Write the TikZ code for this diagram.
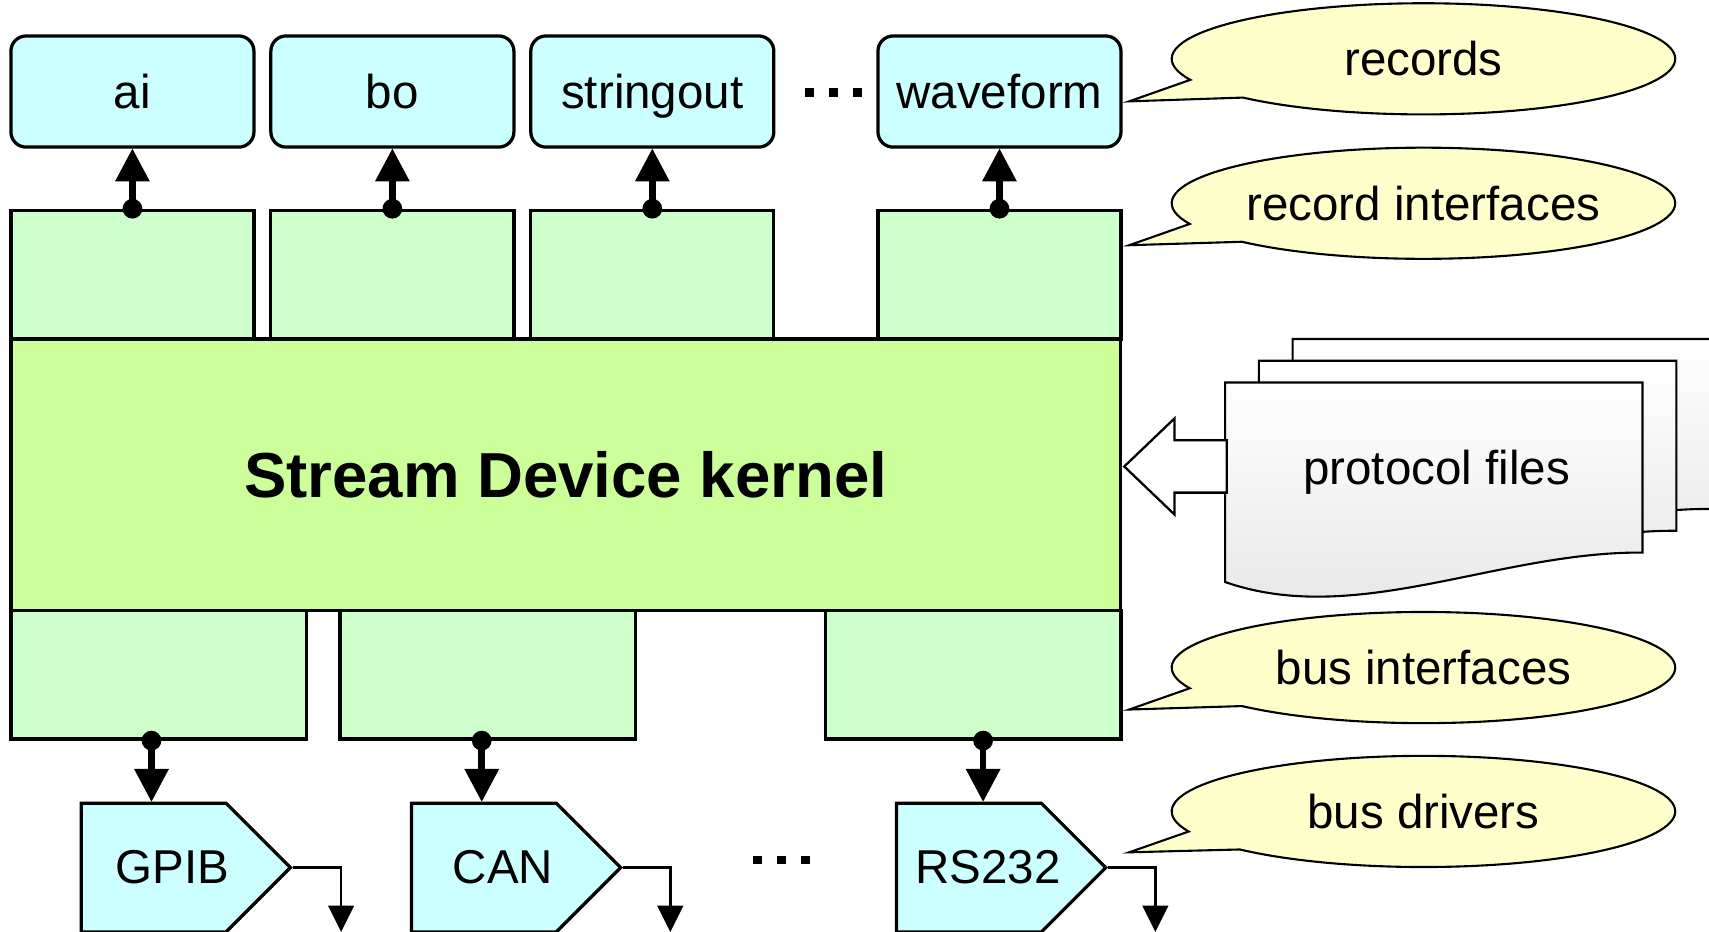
\documentclass[tikz,border=0pt]{standalone}
\usepackage{fontspec}
\setmainfont{Liberation Sans}
\usetikzlibrary{positioning,arrows.meta,shapes.symbols,shapes.callouts}

\definecolor{reccol}{HTML}{CCFFFF}
\definecolor{ifcol}{HTML}{CCFFCC}
\definecolor{kerncol}{HTML}{CCFF99}
\definecolor{notecol}{HTML}{FFFFCC}

\begin{document}
\begin{tikzpicture}[node distance = 1.68cm and 2.385cm, on grid,
font=\fontsize{12.4}{15}\selectfont,
rec/.style ={rectangle, rounded corners=0.14cm, draw, line width=0.85pt,
  fill=reccol, minimum width=2.23cm, minimum height=1.02cm, inner sep=0pt,
  text height=9pt, text depth=0pt},
recif/.style ={rectangle, draw, line width=0.85pt, fill=ifcol,
  minimum width=2.23cm, minimum height=1.18cm},
busif/.style ={recif, minimum width=2.71cm},
kernel/.style ={rectangle, draw, line width=0.85pt, fill=kerncol,
  minimum width=10.18cm, minimum height=2.49cm,
  font=\fontsize{16.6}{20}\selectfont\bfseries},
drv/.style ={signal, signal to=east, signal pointer angle=90, draw,
  line width=0.85pt, fill=reccol, minimum width=1.92cm,
  minimum height=1.18cm, inner sep=0pt, anchor=west},
note/.style ={ellipse callout, draw, line width=0.55pt, fill=notecol,
  minimum width=4.62cm, minimum height=1.02cm, inner sep=0pt,
  callout pointer arc=22},
link/.style ={line width=1.7pt, shorten <=-0.09cm,
  {Circle[length=0.18cm]}-{Triangle[length=0.30cm,width=0.32cm,line width=0pt]}},
drvline/.style ={line width=0.7pt,
  -{Triangle[length=0.24cm,width=0.24cm,line width=0pt]}},
sheet/.style ={draw, line width=0.55pt, top color=white, bottom color=black!10},
hollow/.style ={draw, line width=0.6pt, fill=white}]
\useasboundingbox (0,0) rectangle (15.68,8.55);
\clip (0,0) rectangle (15.68,8.55);

% records
\node[rec] (ai) at (1.215,7.71) {ai};
\node[rec] (bo) [right = of ai] {bo};
\node[rec] (so) [right = of bo] {stringout};
\node[rec] (wf) [right = 3.185cm of so] {waveform};
\foreach \x in {7.43,7.65,7.87}
  \fill (\x-0.04,7.66) rectangle +(0.08,0.08);

% record interfaces
\node[recif] (ifai) [below = of ai] {};
\node[recif] (ifbo) [below = of bo] {};
\node[recif] (ifso) [below = of so] {};
\node[recif] (ifwf) [below = of wf] {};

% kernel
\node[kernel] (kern) at (5.19,4.195) {Stream Device kernel};

% bus interfaces
\node[busif] (ifgpib) at (1.455,2.36) {};
\node[busif] (ifcan) [right = 3.02cm of ifgpib] {};
\node[busif] (ifrs) at (8.93,2.36) {};

% bus drivers
\node[drv, label={[xshift=0.175cm]center:GPIB}] (gpib) at (0.73,0.59) {};
\node[drv, label={[xshift=0.175cm]center:CAN}] (can) at (3.76,0.59) {};
\node[drv, label={[xshift=0.175cm]center:RS232}] (rs) at (8.21,0.59) {};
\foreach \x in {6.95,7.17,7.39}
  \fill (\x-0.04,0.62) rectangle +(0.08,0.08);

\path (ifai.north) edge [link] (ai.south)
      (ifbo.north) edge [link] (bo.south)
      (ifso.north) edge [link] (so.south)
      (ifwf.north) edge [link] (wf.south);
\draw[link] ([xshift=-0.02cm]gpib.north |- ifgpib.south) -- ([xshift=-0.02cm]gpib.north);
\draw[link] ([xshift=-0.02cm]can.north |- ifcan.south) -- ([xshift=-0.02cm]can.north);
\draw[link] ([xshift=0.13cm]rs.north |- ifrs.south) -- ([xshift=0.13cm]rs.north);

\coordinate (gpibOut) at (3.13,0);
\coordinate (canOut) at (6.15,0);
\coordinate (rsOut) at (10.60,0);
\draw[drvline] (gpib.east) -| (gpibOut);
\draw[drvline] (can.east) -| (canOut);
\draw[drvline] (rs.east) -| (rsOut);

% protocol files
\foreach \dx/\dy in {0.62/0.40, 0.31/0.20, 0/0}
  \draw[sheet] (11.24+\dx,5.04+\dy) -- ++(3.83,0) -- ++(0,-1.56)
    .. controls +(-1.33,0.01) and +(1.20,-0.42) .. ++(-3.83,-0.27) -- cycle;
\node (proto) at (13.18,4.22) {protocol files};
\draw[hollow] (kern.east) ++(0.02,0.075) coordinate (tip) -- ++(0.46,0.44)
  -- ++(0,-0.20) -- ++(0.48,0) -- ++(0,-0.48) -- ++(-0.48,0) -- ++(0,-0.20) -- cycle;

% notes
\coordinate (recTip) at (10.36,7.62);
\coordinate (recifTip) at (10.36,6.30);
\coordinate (busifTip) at (10.36,2.04);
\coordinate (drvTip) at (10.36,0.73);
\node[note, callout absolute pointer={(recTip)}] (nrec) at (13.06,8.01) {records};
\node[note, callout absolute pointer={(recifTip)}] (nrecif) at (13.06,6.685) {record interfaces};
\node[note, callout absolute pointer={(busifTip)}] (nbusif) at (13.06,2.425) {bus interfaces};
\node[note, callout absolute pointer={(drvTip)}] (ndrv) at (13.06,1.105) {bus drivers};
\end{tikzpicture}
\end{document}
